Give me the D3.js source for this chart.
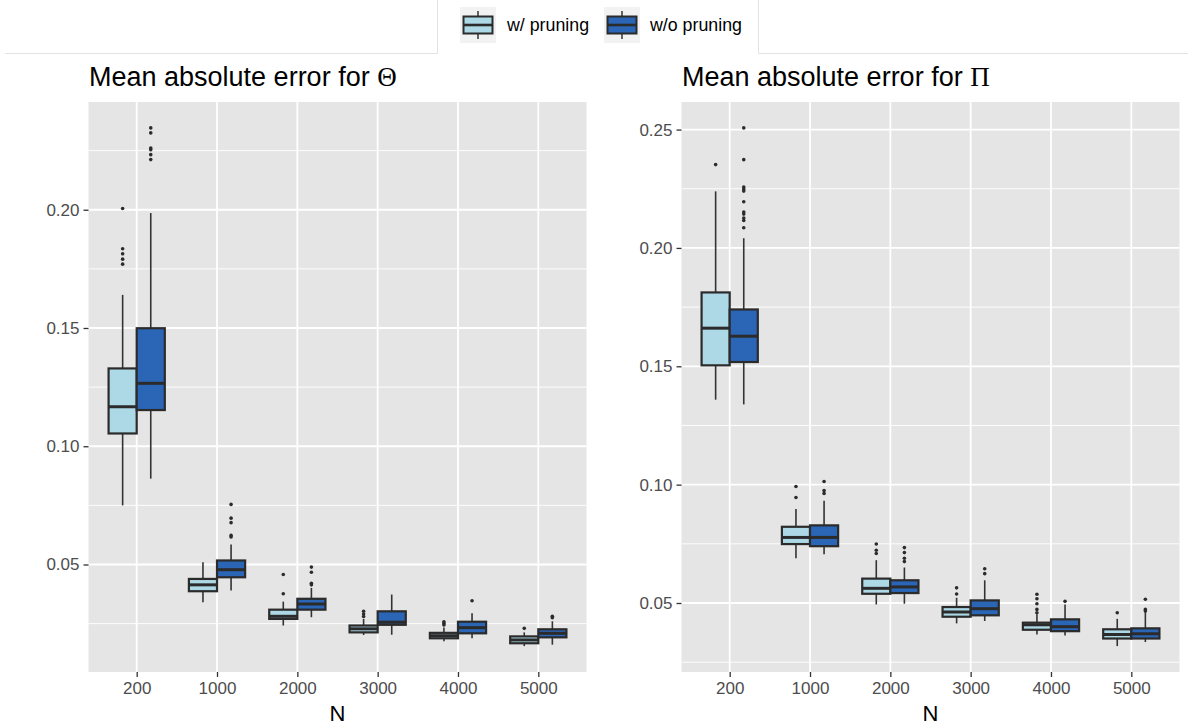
<!DOCTYPE html>
<html>
<head>
<meta charset="utf-8">
<script src="https://cdn.jsdelivr.net/npm/d3@7"></script>
<style>
body{margin:0;background:#fff;}
text{font-family:"Liberation Sans",Arial,Helvetica,sans-serif;}
</style>
</head>
<body>
<svg id="chart" width="1188" height="725"></svg>
<script>
// categories and groups
const nLabels=["200","1000","2000","3000","4000","5000"];
const groups=["w/ pruning","w/o pruning"];
const groupColors=["#add8e6","#2a65b6"];

// box stats per N: [lower whisker, q1, median, q3, upper whisker]
const thetaWithStats=[
  [0.0750,0.1054,0.1167,0.1329,0.1640],
  [0.0340,0.0387,0.0414,0.0439,0.0510],
  [0.0242,0.0270,0.0281,0.0309,0.0343],
  [0.0202,0.0213,0.0228,0.0242,0.0270],
  [0.0175,0.0188,0.0199,0.0211,0.0234],
  [0.0155,0.0167,0.0181,0.0196,0.0213]];
const thetaWithOut=[[0.2005,0.1835,0.1814,0.1791,0.1770],[],[0.0458,0.0376],[0.0302,0.0291,0.0280],[0.0258,0.0251,0.0244],[0.0230]];
const thetaWithoutStats=[
  [0.0863,0.1153,0.1266,0.1499,0.1986],
  [0.0390,0.0446,0.0478,0.0517,0.0585],
  [0.0277,0.0309,0.0333,0.0355,0.0401],
  [0.0203,0.0245,0.0256,0.0302,0.0373],
  [0.0188,0.0209,0.0233,0.0258,0.0294],
  [0.0161,0.0192,0.0209,0.0226,0.0260]];
const thetaWithoutOut=[[0.2346,0.2325,0.2261,0.2254,0.2233,0.2212],[0.0754,0.0696,0.0677,0.0623,0.0616],[0.0489,0.0467,0.0421,0.0414],[],[0.0347],[0.0281,0.0275]];

const piWithStats=[
  [0.1359,0.1504,0.1661,0.1812,0.2239],
  [0.0689,0.0749,0.0777,0.0822,0.0897],
  [0.0494,0.0539,0.0562,0.0603,0.0681],
  [0.0414,0.0442,0.0462,0.0483,0.0522],
  [0.0367,0.0387,0.0408,0.0417,0.0452],
  [0.0318,0.0350,0.0367,0.0389,0.0433]];
const piWithOut=[[0.2352],[0.0992,0.0946],[0.0749,0.0723,0.0709],[0.0564,0.0538],[0.0537,0.0518,0.0497,0.0473,0.0459],[0.0459]];
const piWithoutStats=[
  [0.1339,0.1518,0.1627,0.1740,0.2041],
  [0.0706,0.0740,0.0777,0.0828,0.0932],
  [0.0497,0.0542,0.0568,0.0596,0.0650],
  [0.0424,0.0448,0.0476,0.0511,0.0596],
  [0.0363,0.0381,0.0400,0.0431,0.0494],
  [0.0335,0.0350,0.0370,0.0393,0.0466]];
const piWithoutOut=[[0.2507,0.2373,0.2257,0.2249,0.2240,0.2195,0.2152,0.2143,0.2126,0.2116,0.2085],[0.1013,0.0975,0.0963],[0.0734,0.0713,0.0689,0.0675],[0.0645,0.0624],[0.0507],[0.0516,0.0473,0.0466]];

const thetaTicks=[0.05,0.10,0.15,0.20];
const piTicks=[0.05,0.10,0.15,0.20,0.25];

const svg=d3.select("#chart");
const panelTop=102, panelBottom=672;

// faint frame lines around the legend area
svg.append("path").attr("d","M5,53.5H437.5V0").attr("fill","none").attr("stroke","#e3e3e3").attr("stroke-width",1);
svg.append("path").attr("d","M758.5,0V53.5H1188").attr("fill","none").attr("stroke","#e3e3e3").attr("stroke-width",1);

function drawPanel(x0,x1,title,symbol,stats,outs,ticks){
  const g=svg.append("g");
  const all=[];
  stats.forEach(s=>s.forEach(r=>all.push(r[0],r[4])));
  outs.forEach(o=>o.forEach(r=>all.push(...r)));
  const ext=d3.extent(all), pad=(ext[1]-ext[0])*0.05;
  const y=d3.scaleLinear().domain([ext[0]-pad,ext[1]+pad]).range([panelBottom,panelTop]);
  const x=d3.scalePoint().domain(nLabels).range([x0,x1]).padding(0.6);
  const step=x.step(), bw=step*0.35;
  const dx=d3.scaleBand().domain(groups).range([-step*0.35,step*0.35]);

  g.append("rect").attr("x",x0).attr("y",panelTop).attr("width",x1-x0).attr("height",panelBottom-panelTop).attr("fill","#e5e5e5");
  const minor=d3.range(0.025,y.domain()[1],0.05).filter(v=>v>y.domain()[0]);
  g.selectAll(".minor").data(minor).join("line").attr("x1",x0).attr("x2",x1)
    .attr("y1",d=>y(d)).attr("y2",d=>y(d)).attr("stroke","#fff").attr("stroke-width",0.9);
  g.selectAll(".majy").data(ticks).join("line").attr("x1",x0).attr("x2",x1)
    .attr("y1",d=>y(d)).attr("y2",d=>y(d)).attr("stroke","#fff").attr("stroke-width",1.8);
  g.selectAll(".majx").data(nLabels).join("line").attr("y1",panelTop).attr("y2",panelBottom)
    .attr("x1",d=>x(d)).attr("x2",d=>x(d)).attr("stroke","#fff").attr("stroke-width",1.8);

  // axes
  const ya=g.append("g").attr("transform","translate("+x0+",0)")
    .call(d3.axisLeft(y).tickValues(ticks).tickFormat(d3.format(".2f")).tickSize(5).tickPadding(4));
  const xa=g.append("g").attr("transform","translate(0,"+panelBottom+")")
    .call(d3.axisBottom(x).tickSize(5).tickPadding(5));
  [ya,xa].forEach(a=>{
    a.select(".domain").remove();
    a.selectAll(".tick line").attr("stroke","#333").attr("stroke-width",1.3);
    a.selectAll(".tick text").attr("fill","#4d4d4d").style("font-size","17px").style("font-family","Liberation Sans, Arial, sans-serif");
  });

  // boxes
  groups.forEach((grp,gi)=>{
    stats[gi].forEach((s,i)=>{
      const cx=x(nLabels[i])+dx(grp)+dx.bandwidth()/2;
      const b=g.append("g");
      b.append("line").attr("x1",cx).attr("x2",cx).attr("y1",y(s[4])).attr("y2",y(s[3])).attr("stroke","#333").attr("stroke-width",1.6);
      b.append("line").attr("x1",cx).attr("x2",cx).attr("y1",y(s[1])).attr("y2",y(s[0])).attr("stroke","#333").attr("stroke-width",1.6);
      b.append("rect").attr("x",cx-bw/2).attr("width",bw).attr("y",y(s[3])).attr("height",y(s[1])-y(s[3]))
        .attr("fill",groupColors[gi]).attr("stroke","#2b2b2b").attr("stroke-width",2.2);
      b.append("line").attr("x1",cx-bw/2).attr("x2",cx+bw/2).attr("y1",y(s[2])).attr("y2",y(s[2])).attr("stroke","#2b2b2b").attr("stroke-width",3);
      b.selectAll("circle").data(outs[gi][i]).join("circle").attr("cx",cx).attr("cy",d=>y(d)).attr("r",1.8).attr("fill","#2b2b2b");
    });
  });

  const t=g.append("text").attr("x",x0+0.5).attr("y",86).attr("fill","#000").style("font-size","27px");
  t.append("tspan").text(title);
  t.append("tspan").style("font-family","Liberation Serif, Times New Roman, serif").text(symbol);
  g.append("text").attr("x",(x0+x1)/2).attr("y",721).attr("text-anchor","middle").attr("fill","#000").style("font-size","22px").text("N");
}

drawPanel(88.5,586.5,"Mean absolute error for ","\u0398",[thetaWithStats,thetaWithoutStats],[thetaWithOut,thetaWithoutOut],thetaTicks);
drawPanel(681.5,1179.5,"Mean absolute error for ","\u03A0",[piWithStats,piWithoutStats],[piWithOut,piWithoutOut],piTicks);

// legend
const legendX=[460,604], legendText=[507,650];
groups.forEach((grp,i)=>{
  const lg=svg.append("g").attr("transform","translate("+legendX[i]+",7)");
  lg.append("rect").attr("width",36).attr("height",36).attr("fill","#f2f2f2");
  lg.append("line").attr("x1",18).attr("x2",18).attr("y1",4).attr("y2",32).attr("stroke","#333").attr("stroke-width",1.5);
  lg.append("rect").attr("x",3.5).attr("y",9.5).attr("width",29).attr("height",17).attr("fill",groupColors[i]).attr("stroke","#2b2b2b").attr("stroke-width",2);
  lg.append("line").attr("x1",3.5).attr("x2",32.5).attr("y1",18).attr("y2",18).attr("stroke","#2b2b2b").attr("stroke-width",2.6);
  svg.append("text").attr("x",legendText[i]).attr("y",31).attr("fill","#000").style("font-size","17.8px").text(grp);
});
</script>
</body>
</html>
